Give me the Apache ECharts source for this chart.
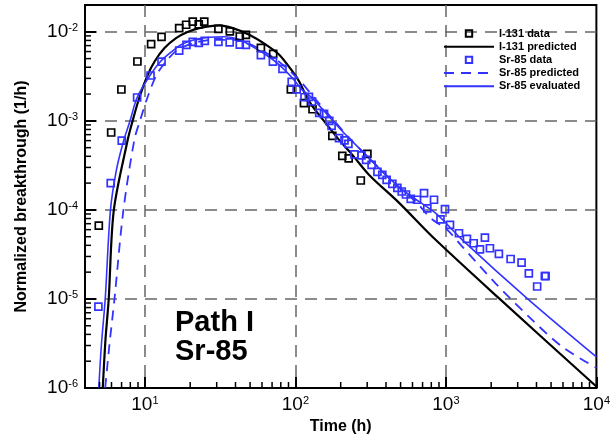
<!DOCTYPE html>
<html><head><meta charset="utf-8">
<script src="https://cdn.jsdelivr.net/npm/echarts@6/dist/echarts.min.js"></script>
<style>html,body{margin:0;padding:0;background:#fff}#c{width:613px;height:443px}</style>
</head><body><div id="c"></div>
<script>
// ---- data (time in h, normalized breakthrough in 1/h) ----
const i131DataTime = [4.94, 5.97, 6.98, 8.92, 11.0, 12.9, 16.9, 18.8, 20.8, 22.8, 24.8, 30.8, 36.7, 42.7, 46.9, 59.0, 71.2, 93.3, 114, 130, 176, 205, 226, 272, 301];
const i131DataVal  = [6.67e-5, 7.4e-4, 2.25e-3, 4.64e-3, 7.27e-3, 8.79e-3, 1.10e-2, 1.20e-2, 1.30e-2, 1.21e-2, 1.30e-2, 1.08e-2, 1.01e-2, 8.86e-3, 9.25e-3, 6.61e-3, 5.66e-3, 2.26e-3, 1.58e-3, 1.35e-3, 6.78e-4, 4.04e-4, 3.79e-4, 2.14e-4, 4.26e-4];

const sr85DataTime = [4.91, 5.93, 7.02, 8.88, 10.9, 12.9, 16.9, 18.9, 20.8, 22.8, 25.0, 30.8, 36.6, 42.7, 46.9, 59.0, 70.9, 82.1, 94.5, 102, 115, 123, 129, 144, 155, 168, 174, 195, 212, 225, 247, 275, 295, 321, 351, 378, 404, 441, 476, 509, 543, 584, 643, 716, 753, 834, 921, 986, 1065, 1222, 1380, 1530, 1684, 1817, 1962, 2250, 2692, 3184, 3559, 4041, 4546, 4600];
const sr85DataVal  = [8.19e-6, 2.0e-4, 5.99e-4, 1.83e-3, 3.23e-3, 4.63e-3, 6.16e-3, 7.15e-3, 7.72e-3, 7.52e-3, 7.92e-3, 7.72e-3, 7.62e-3, 7.19e-3, 7.15e-3, 5.47e-3, 4.63e-3, 3.84e-3, 2.74e-3, 2.26e-3, 1.84e-3, 1.86e-3, 1.65e-3, 1.23e-3, 1.20e-3, 1.0e-3, 8.79e-4, 6.40e-4, 6.04e-4, 5.52e-4, 4.21e-4, 4.10e-4, 3.65e-4, 3.21e-4, 2.67e-4, 2.47e-4, 2.17e-4, 1.96e-4, 1.77e-4, 1.61e-4, 1.49e-4, 1.33e-4, 1.30e-4, 1.54e-4, 1.04e-4, 1.30e-4, 7.82e-5, 1.02e-4, 6.78e-5, 5.47e-5, 4.72e-5, 4.22e-5, 3.61e-5, 4.89e-5, 3.71e-5, 3.21e-5, 2.81e-5, 2.56e-5, 1.94e-5, 1.38e-5, 1.81e-5, 1.80e-5];

const i131PredTime = [5.25, 5.47, 5.75, 6.21, 7.69, 8.26, 9.19, 10.4, 11.6, 13.5, 16.1, 19.2, 23.0, 31.2, 38.3, 49.4, 63.7, 78.1, 95.7, 106, 117, 130, 159, 195, 239, 309, 489, 834, 2249, 10000];
const i131PredVal  = [1e-6, 3.46e-6, 1.0e-5, 9.8e-5, 6.12e-4, 9.8e-4, 1.83e-3, 3.23e-3, 4.64e-3, 6.56e-3, 8.5e-3, 9.93e-3, 1.10e-2, 1.18e-2, 1.10e-2, 9.25e-3, 7.15e-3, 5.52e-3, 3.58e-3, 2.77e-3, 1.96e-3, 1.45e-3, 9.42e-4, 6.12e-4, 4.15e-4, 2.47e-4, 1.2e-4, 4.8e-5, 1.02e-5, 1.04e-6];

const sr85PredTime = [5.45, 5.81, 6.28, 7.19, 8.51, 9.27, 10.4, 11.9, 13.8, 16.5, 21.3, 28.9, 39.2, 49.4, 63.7, 78.1, 106, 130, 167, 228, 309, 489, 631, 793, 1021, 1285, 2138, 3556, 5916, 10000];
const sr85PredVal  = [1e-6, 3.04e-6, 1e-5, 9.8e-5, 6.12e-4, 1e-3, 1.83e-3, 3.23e-3, 4.64e-3, 6.28e-3, 7.52e-3, 8.13e-3, 8.13e-3, 7.33e-3, 5.81e-3, 4.6e-3, 2.89e-3, 1.91e-3, 1.17e-3, 6.44e-4, 3.81e-4, 1.77e-4, 1.24e-4, 8.07e-5, 5.96e-5, 3.87e-5, 1.5e-5, 6.32e-6, 2.91e-6, 1.68e-6];

const sr85EvalTime = [4.94, 5.14, 5.45, 5.90, 6.47, 7.23, 7.97, 8.88, 10.8, 12.7, 15.1, 17.4, 21.3, 26.8, 33.7, 42.4, 49.4, 63.7, 78.1, 95.7, 111, 130, 167, 216, 294, 419, 569, 855, 1285, 3556, 10000];
const sr85EvalVal  = [1e-6, 3.04e-6, 1e-5, 9.8e-5, 2.81e-4, 6.01e-4, 1e-3, 1.83e-3, 3.23e-3, 4.64e-3, 6.01e-3, 7.15e-3, 8.13e-3, 8.67e-3, 8.79e-3, 8.24e-3, 7.15e-3, 5.52e-3, 4.26e-3, 3.02e-3, 2.23e-3, 1.79e-3, 1.12e-3, 6.97e-4, 4.15e-4, 2.27e-4, 1.48e-4, 9.18e-5, 4.6e-5, 9.75e-6, 2.23e-6];

// axis tick labels (decade exponents) and minor tick multipliers
const xTickExponents = [1, 2, 3, 4];
const yTickExponents = [-6, -5, -4, -3, -2];
const minorMultipliers = [2, 3, 4, 5, 6, 7, 8, 9];
const xDecades = [1, 10, 100, 1000];
const yDecades = [1e-6, 1e-5, 1e-4, 1e-3, 1e-2];

const X_MIN = 4, X_MAX = 1e4, Y_MIN = 1e-6, Y_MAX = 0.02;
const FONT = '"Liberation Sans", Arial, sans-serif';
const BLUE = '#3333ff';

const zip = (a, b) => a.map((v, i) => [v, b[i]]);

const xMinor = [];
xDecades.forEach(d => minorMultipliers.forEach(m => { const v = d * m; if (v > X_MIN && v < X_MAX) xMinor.push([v, Y_MIN, 0]); }));
const yMinor = [];
yDecades.forEach(d => minorMultipliers.forEach(m => { const v = d * m; if (v > Y_MIN && v < Y_MAX) yMinor.push([X_MIN, v, 1]); }));

function expLabel(v, list) {
  const l = Math.log10(v), e = Math.round(l);
  if (Math.abs(l - e) > 1e-6 || list.indexOf(e) < 0) return '';
  return '{b|10}{s|' + e + '}';
}
const richLab = {
  b: { fontSize: 19, fontFamily: FONT, color: '#000' },
  s: { fontSize: 11, fontFamily: FONT, color: '#000', verticalAlign: 'top' }
};

const chart = echarts.init(document.getElementById('c'), null, { renderer: 'canvas' });
chart.setOption({
  animation: false,
  backgroundColor: '#fff',
  grid: { left: 85, right: 15.5, top: 5, bottom: 55, show: true, borderColor: '#000', borderWidth: 2, backgroundColor: 'transparent' },
  legend: {
    left: 443, top: 28, padding: 0, orient: 'vertical', itemWidth: 50, itemHeight: 8, itemGap: 2.2,
    textStyle: { fontFamily: FONT, fontWeight: 'bold', fontSize: 11, color: '#000' },
    data: [
      { name: 'I-131 data' },
      { name: 'I-131 predicted', itemStyle: { opacity: 0 } },
      { name: 'Sr-85 data' },
      { name: 'Sr-85 predicted', itemStyle: { opacity: 0 } },
      { name: 'Sr-85 evaluated', itemStyle: { opacity: 0 } }
    ],
    selectedMode: false
  },
  xAxis: {
    type: 'log', logBase: 10, min: X_MIN, max: X_MAX,
    name: 'Time (h)', nameLocation: 'middle', nameGap: 30,
    nameTextStyle: { fontFamily: FONT, fontWeight: 'bold', fontSize: 16, color: '#000' },
    axisLine: { lineStyle: { color: '#000', width: 2 } },
    axisTick: { inside: true, length: 11, lineStyle: { color: '#000', width: 2 } },
    axisLabel: { margin: 7, formatter: v => expLabel(v, xTickExponents), rich: richLab, showMinLabel: true, showMaxLabel: true },
    splitLine: { show: true, showMinLine: false, showMaxLine: false, lineStyle: { color: '#666', width: 1.5, type: [12, 8] } }
  },
  yAxis: {
    type: 'log', logBase: 10, min: Y_MIN, max: Y_MAX,
    name: 'Normalized breakthrough (1/h)', nameLocation: 'middle', nameGap: 55, nameRotate: 90,
    nameTextStyle: { fontFamily: FONT, fontWeight: 'bold', fontSize: 16, color: '#000' },
    axisLine: { lineStyle: { color: '#000', width: 2 } },
    axisTick: { inside: true, length: 11, lineStyle: { color: '#000', width: 2 } },
    axisLabel: { margin: 7, formatter: v => expLabel(v, yTickExponents), rich: richLab },
    splitLine: { show: true, showMinLine: false, showMaxLine: false, lineStyle: { color: '#666', width: 1.5, type: [12, 8] } }
  },
  graphic: [{
    type: 'text', left: 175, top: 308, z: 10,
    style: { text: 'Path I\nSr-85', font: 'bold 29px ' + FONT, lineHeight: 29, fill: '#000' }
  }],
  series: [
    {
      name: 'minor ticks', type: 'custom', silent: true, z: 5, clip: false,
      data: xMinor.concat(yMinor),
      renderItem: (params, api) => {
        const p = api.coord([api.value(0), api.value(1)]);
        const horiz = api.value(2) === 1;
        return { type: 'line', shape: horiz ? { x1: p[0], y1: p[1], x2: p[0] + 6, y2: p[1] } : { x1: p[0], y1: p[1], x2: p[0], y2: p[1] - 6 },
                 style: { stroke: '#000', lineWidth: 1.5 } };
      }
    },
    {
      name: 'I-131 predicted', type: 'line', data: zip(i131PredTime, i131PredVal), symbol: 'none', smooth: 0.3,
      lineStyle: { color: '#000', width: 2.2 }, itemStyle: { color: '#000' }, z: 3
    },
    {
      name: 'Sr-85 predicted', type: 'line', data: zip(sr85PredTime, sr85PredVal), symbol: 'none', smooth: 0.3,
      lineStyle: { color: BLUE, width: 1.8, type: [10, 7] }, itemStyle: { color: BLUE }, z: 3
    },
    {
      name: 'Sr-85 evaluated', type: 'line', data: zip(sr85EvalTime, sr85EvalVal), symbol: 'none', smooth: 0.3,
      lineStyle: { color: BLUE, width: 1.6 }, itemStyle: { color: BLUE }, z: 3
    },
    {
      name: 'I-131 data', type: 'line', data: zip(i131DataTime, i131DataVal), symbol: 'rect', symbolSize: 7, showSymbol: true,
      lineStyle: { width: 0, opacity: 0 }, itemStyle: { color: 'rgba(0,0,0,0)', borderColor: '#000', borderWidth: 1.7 }, z: 4
    },
    {
      name: 'Sr-85 data', type: 'line', data: zip(sr85DataTime, sr85DataVal), symbol: 'rect', symbolSize: 7, showSymbol: true,
      lineStyle: { width: 0, opacity: 0 }, itemStyle: { color: 'rgba(0,0,0,0)', borderColor: BLUE, borderWidth: 1.7 }, z: 4
    }
  ]
});
</script>
</body></html>
